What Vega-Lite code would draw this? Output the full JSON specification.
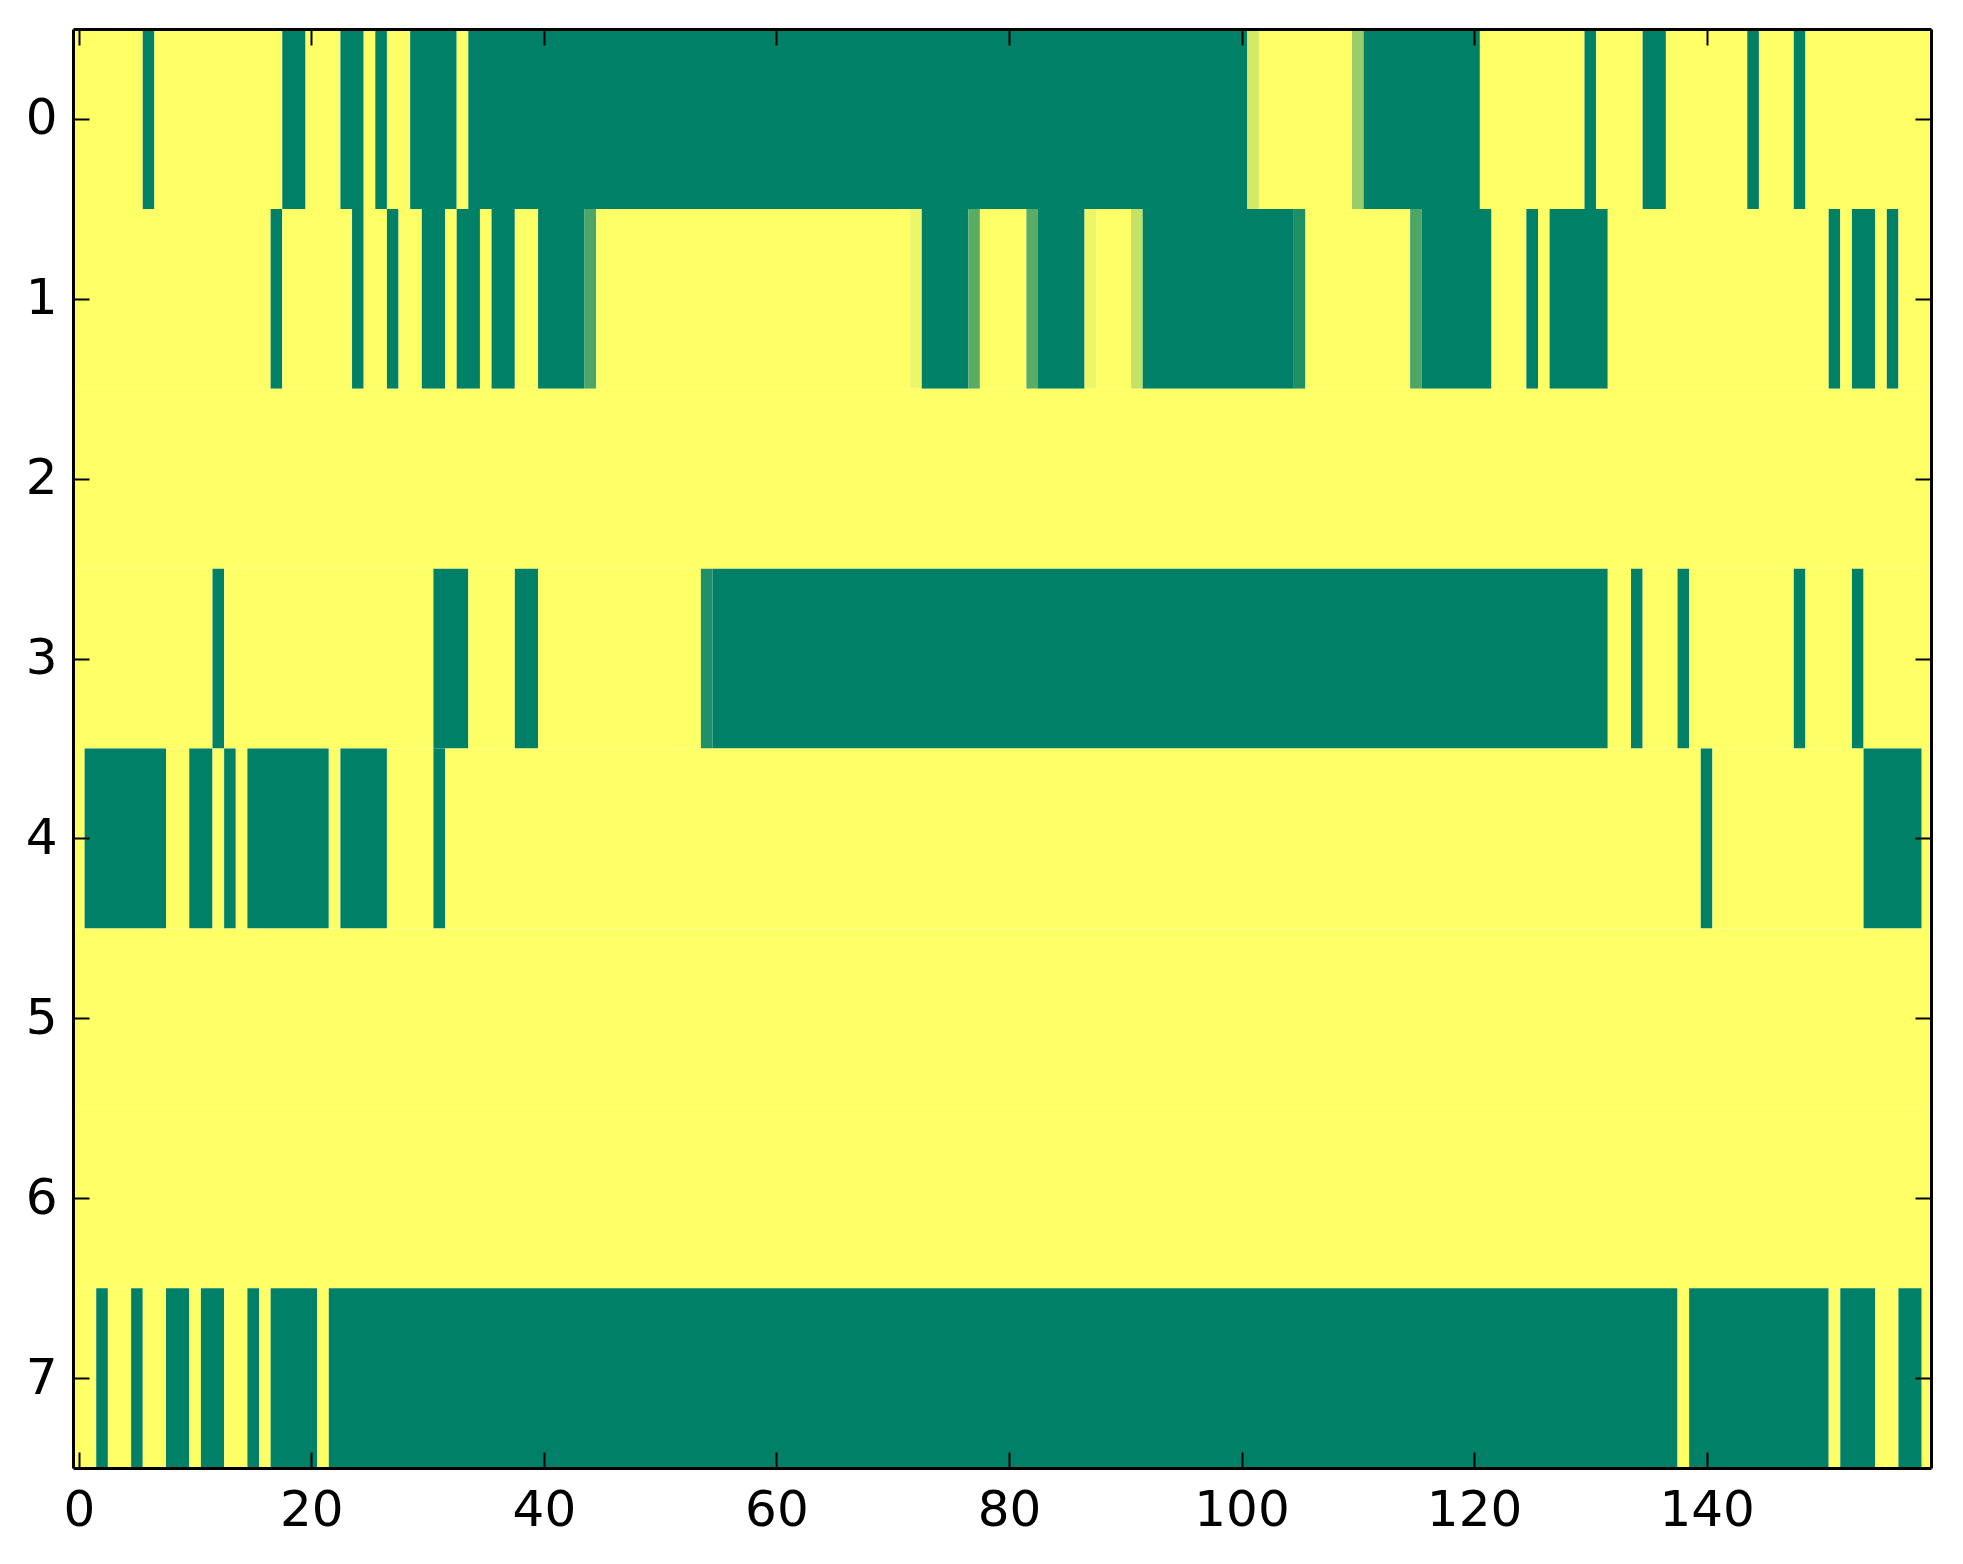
{
  "$schema": "https://vega.github.io/schema/vega-lite/v6.json",
  "autosize": {"type": "none"},
  "padding": {"left": 73, "top": 29, "right": 32, "bottom": 96},
  "width": 1858,
  "height": 1439,
  "background": "white",
  "config": {
    "view": {"stroke": null},
    "axis": {
      "domain": true,
      "domainColor": "black",
      "domainWidth": 3,
      "grid": false,
      "tickSize": -16,
      "tickWidth": 2,
      "tickColor": "black",
      "labelFont": "DejaVu Sans",
      "labelFontSize": 50,
      "labelColor": "black",
      "title": null
    }
  },
  "data": {
    "values": [
      {"r":0,"s":0,"e":5,"v":0},{"r":0,"s":6,"e":6,"v":1},{"r":0,"s":7,"e":17,"v":0},{"r":0,"s":18,"e":19,"v":1},{"r":0,"s":20,"e":22,"v":0},{"r":0,"s":23,"e":24,"v":1},{"r":0,"s":25,"e":25,"v":0},{"r":0,"s":26,"e":26,"v":1},{"r":0,"s":27,"e":28,"v":0},{"r":0,"s":29,"e":32,"v":1},{"r":0,"s":33,"e":33,"v":0},{"r":0,"s":34,"e":100,"v":1},{"r":0,"s":101,"e":101,"v":0.17},{"r":0,"s":102,"e":109,"v":0},{"r":0,"s":110,"e":110,"v":0.4},{"r":0,"s":111,"e":120,"v":1},{"r":0,"s":121,"e":129,"v":0},{"r":0,"s":130,"e":130,"v":1},{"r":0,"s":131,"e":134,"v":0},{"r":0,"s":135,"e":136,"v":1},{"r":0,"s":137,"e":143,"v":0},{"r":0,"s":144,"e":144,"v":1},{"r":0,"s":145,"e":147,"v":0},{"r":0,"s":148,"e":148,"v":1},{"r":0,"s":149,"e":159,"v":0},
      {"r":1,"s":0,"e":16,"v":0},{"r":1,"s":17,"e":17,"v":1},{"r":1,"s":18,"e":23,"v":0},{"r":1,"s":24,"e":24,"v":1},{"r":1,"s":25,"e":26,"v":0},{"r":1,"s":27,"e":27,"v":1},{"r":1,"s":28,"e":29,"v":0},{"r":1,"s":30,"e":31,"v":1},{"r":1,"s":32,"e":32,"v":0},{"r":1,"s":33,"e":34,"v":1},{"r":1,"s":35,"e":35,"v":0},{"r":1,"s":36,"e":37,"v":1},{"r":1,"s":38,"e":39,"v":0},{"r":1,"s":40,"e":43,"v":1},{"r":1,"s":44,"e":44,"v":0.7},{"r":1,"s":45,"e":71,"v":0},{"r":1,"s":72,"e":72,"v":0.07},{"r":1,"s":73,"e":76,"v":1},{"r":1,"s":77,"e":77,"v":0.65},{"r":1,"s":78,"e":81,"v":0},{"r":1,"s":82,"e":82,"v":0.65},{"r":1,"s":83,"e":86,"v":1},{"r":1,"s":87,"e":87,"v":0.07},{"r":1,"s":88,"e":90,"v":0},{"r":1,"s":91,"e":91,"v":0.23},{"r":1,"s":92,"e":104,"v":1},{"r":1,"s":105,"e":105,"v":0.88},{"r":1,"s":106,"e":114,"v":0},{"r":1,"s":115,"e":115,"v":0.7},{"r":1,"s":116,"e":121,"v":1},{"r":1,"s":122,"e":124,"v":0},{"r":1,"s":125,"e":125,"v":1},{"r":1,"s":126,"e":126,"v":0},{"r":1,"s":127,"e":131,"v":1},{"r":1,"s":132,"e":150,"v":0},{"r":1,"s":151,"e":151,"v":1},{"r":1,"s":152,"e":152,"v":0},{"r":1,"s":153,"e":154,"v":1},{"r":1,"s":155,"e":155,"v":0},{"r":1,"s":156,"e":156,"v":1},{"r":1,"s":157,"e":159,"v":0},
      {"r":2,"s":0,"e":159,"v":0},
      {"r":3,"s":0,"e":11,"v":0},{"r":3,"s":12,"e":12,"v":1},{"r":3,"s":13,"e":30,"v":0},{"r":3,"s":31,"e":33,"v":1},{"r":3,"s":34,"e":37,"v":0},{"r":3,"s":38,"e":39,"v":1},{"r":3,"s":40,"e":53,"v":0},{"r":3,"s":54,"e":54,"v":0.88},{"r":3,"s":55,"e":131,"v":1},{"r":3,"s":132,"e":133,"v":0},{"r":3,"s":134,"e":134,"v":1},{"r":3,"s":135,"e":137,"v":0},{"r":3,"s":138,"e":138,"v":1},{"r":3,"s":139,"e":147,"v":0},{"r":3,"s":148,"e":148,"v":1},{"r":3,"s":149,"e":152,"v":0},{"r":3,"s":153,"e":153,"v":1},{"r":3,"s":154,"e":159,"v":0},
      {"r":4,"s":0,"e":0,"v":0},{"r":4,"s":1,"e":7,"v":1},{"r":4,"s":8,"e":9,"v":0},{"r":4,"s":10,"e":11,"v":1},{"r":4,"s":12,"e":12,"v":0},{"r":4,"s":13,"e":13,"v":1},{"r":4,"s":14,"e":14,"v":0},{"r":4,"s":15,"e":21,"v":1},{"r":4,"s":22,"e":22,"v":0},{"r":4,"s":23,"e":26,"v":1},{"r":4,"s":27,"e":30,"v":0},{"r":4,"s":31,"e":31,"v":1},{"r":4,"s":32,"e":139,"v":0},{"r":4,"s":140,"e":140,"v":1},{"r":4,"s":141,"e":153,"v":0},{"r":4,"s":154,"e":158,"v":1},{"r":4,"s":159,"e":159,"v":0},
      {"r":5,"s":0,"e":159,"v":0},
      {"r":6,"s":0,"e":159,"v":0},
      {"r":7,"s":0,"e":1,"v":0},{"r":7,"s":2,"e":2,"v":1},{"r":7,"s":3,"e":4,"v":0},{"r":7,"s":5,"e":5,"v":1},{"r":7,"s":6,"e":7,"v":0},{"r":7,"s":8,"e":9,"v":1},{"r":7,"s":10,"e":10,"v":0},{"r":7,"s":11,"e":12,"v":1},{"r":7,"s":13,"e":14,"v":0},{"r":7,"s":15,"e":15,"v":1},{"r":7,"s":16,"e":16,"v":0},{"r":7,"s":17,"e":20,"v":1},{"r":7,"s":21,"e":21,"v":0},{"r":7,"s":22,"e":137,"v":1},{"r":7,"s":138,"e":138,"v":0},{"r":7,"s":139,"e":150,"v":1},{"r":7,"s":151,"e":151,"v":0},{"r":7,"s":152,"e":154,"v":1},{"r":7,"s":155,"e":156,"v":0},{"r":7,"s":157,"e":158,"v":1},{"r":7,"s":159,"e":159,"v":0}
    ]
  },
  "transform": [
    {"calculate": "datum.s - 0.5", "as": "x0"},
    {"calculate": "datum.e + 0.5", "as": "x1"},
    {"calculate": "datum.r - 0.5", "as": "y0"},
    {"calculate": "datum.r + 0.5", "as": "y1"}
  ],
  "layer": [
    {
      "mark": {"type": "rect", "clip": true, "strokeWidth": 0},
      "encoding": {
        "x": {"field": "x0", "type": "quantitative",
              "scale": {"domain": [-0.5, 159.3], "nice": false, "zero": false},
              "axis": {"orient": "bottom", "values": [0,20,40,60,80,100,120,140], "labelPadding": 33, "zindex": 2}},
        "x2": {"field": "x1"},
        "y": {"field": "y0", "type": "quantitative",
              "scale": {"domain": [-0.5, 7.5], "nice": false, "zero": false, "reverse": true},
              "axis": {"orient": "left", "values": [0,1,2,3,4,5,6,7], "labelPadding": 32, "zindex": 2}},
        "y2": {"field": "y1"},
        "color": {"field": "v", "type": "quantitative",
                  "scale": {"domain": [0, 1], "range": ["#ffff66", "#008066"], "interpolate": "rgb"},
                  "legend": null}
      }
    },
    {
      "mark": {"type": "rect", "clip": true, "opacity": 0},
      "encoding": {
        "x": {"field": "x0", "type": "quantitative",
              "axis": {"orient": "top", "values": [0,20,40,60,80,100,120,140], "labels": false, "zindex": 2}},
        "x2": {"field": "x1"},
        "y": {"field": "y0", "type": "quantitative",
              "axis": {"orient": "right", "values": [0,1,2,3,4,5,6,7], "labels": false, "zindex": 2}},
        "y2": {"field": "y1"}
      }
    }
  ],
  "resolve": {"axis": {"x": "independent", "y": "independent"}}
}
